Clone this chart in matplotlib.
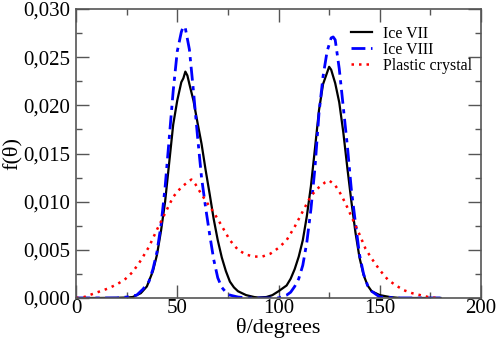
import matplotlib
matplotlib.use("Agg")
import matplotlib.pyplot as plt
from matplotlib.ticker import MultipleLocator, FuncFormatter

plt.rcParams['font.family'] = ['Liberation Serif', 'DejaVu Serif']

# Ice VII
x_vii = [0, 10, 20, 25, 28, 32, 35, 38, 40, 42, 44, 46, 48, 50, 52, 53, 54, 55, 56, 58, 60, 62, 64, 66, 68,
         70, 72, 74, 76, 78, 80, 84, 88, 90, 94, 97, 100, 104, 106, 108, 110, 112, 114, 116, 118, 120, 122,
         124, 125, 126, 128, 130, 132, 134, 136, 138, 140, 142, 144, 146, 150, 155, 160, 170, 180]
y_vii = [0, 0, 0.00002, 0.00005, 0.0001, 0.0005, 0.0012, 0.0028, 0.0045, 0.0070, 0.0100, 0.0140, 0.0180,
         0.0205, 0.0224, 0.0228, 0.0235, 0.0231, 0.0222, 0.0205, 0.0182, 0.0160, 0.0133, 0.0108, 0.0082,
         0.0060, 0.0042, 0.0028, 0.0017, 0.0011, 0.0007, 0.0003, 0.0001, 0.00005, 0.0001, 0.0003, 0.0007,
         0.0013, 0.0020, 0.0030, 0.0043, 0.0060, 0.0085, 0.0116, 0.0155, 0.0195, 0.0222, 0.0234, 0.0240,
         0.0237, 0.0223, 0.0203, 0.0172, 0.0135, 0.0100, 0.0068, 0.0042, 0.0024, 0.0013, 0.0007, 0.0003,
         0.0001, 0, 0, 0]

# Ice VIII
x_viii = [0, 20, 25, 30, 33, 36, 38, 40, 42, 44, 46, 48, 50, 52, 53, 54, 56, 58, 60, 62, 64, 66, 68, 70,
          72, 74, 76, 80, 85, 90, 95, 100, 104, 106, 108, 110, 112, 114, 116, 118, 120, 122, 124, 126, 127,
          128, 130, 132, 134, 136, 138, 140, 142, 144, 146, 150, 160, 180]
y_viii = [0, 0, 0.0001, 0.0003, 0.0009, 0.0017, 0.0030, 0.0048, 0.0076, 0.0115, 0.0165, 0.0215, 0.0256,
          0.0276, 0.0282, 0.0280, 0.0258, 0.0215, 0.0168, 0.0125, 0.0094, 0.0066, 0.0040, 0.0021, 0.0011,
          0.0006, 0.0003, 0.0001, 0, 0, 0, 0, 0.0003, 0.0006, 0.0012, 0.0020, 0.0034, 0.0058, 0.0092,
          0.0135, 0.0192, 0.0230, 0.0256, 0.0270, 0.0271, 0.0268, 0.0238, 0.0198, 0.0158, 0.0112, 0.0078,
          0.0045, 0.0025, 0.0013, 0.0007, 0.0001, 0, 0]

# Plastic crystal
x_pc = [0, 4, 8, 12, 16, 20, 24, 28, 32, 36, 40, 44, 48, 52, 55, 57, 59, 61, 64, 67, 70, 73, 76, 80, 84, 88,
        92, 96, 100, 104, 108, 112, 116, 120, 123, 125, 128, 131, 134, 137, 140, 143, 146, 150, 154, 158,
        162, 166, 170, 174, 178]
y_pc = [0, 0.0001, 0.0004, 0.0007, 0.0010, 0.0014, 0.0019, 0.0027, 0.0039, 0.0053, 0.0071, 0.0088, 0.0105,
        0.0115, 0.0120, 0.0123, 0.0118, 0.0111, 0.0101, 0.0092, 0.0082, 0.0071, 0.0060, 0.0050, 0.0045,
        0.0043, 0.0043, 0.0046, 0.0052, 0.0060, 0.0074, 0.0090, 0.0106, 0.0115, 0.0120, 0.0122, 0.0117,
        0.0107, 0.0094, 0.0080, 0.0066, 0.0051, 0.0041, 0.0029, 0.0019, 0.0013, 0.0008, 0.0005, 0.0003,
        0.0001, 0]

labels = ["Ice VII", "Ice VIII", "Plastic crystal"]

fig = plt.figure(figsize=(4.98, 3.39), dpi=100)
ax = fig.add_axes([76/498, 41/339, 405/498, 289/339])

ax.plot(x_vii, y_vii, color='black', lw=1.6, label=labels[0])
ax.plot(x_viii, y_viii, color='#0000ff', lw=2.0, dashes=(5, 2, 1.5, 2), label=labels[1])
ax.plot(x_pc, y_pc, color='#ff0000', lw=1.8, dashes=(1, 2), label=labels[2])

ax.set_xlim(0, 200)
ax.set_ylim(0, 0.030)
ax.xaxis.set_major_locator(MultipleLocator(50))
ax.xaxis.set_minor_locator(MultipleLocator(25))
ax.yaxis.set_major_locator(MultipleLocator(0.005))
ax.yaxis.set_minor_locator(MultipleLocator(0.0025))
ax.yaxis.set_major_formatter(FuncFormatter(lambda v, p: f"{v:.3f}".replace('.', ',')))
ax.xaxis.set_major_formatter(FuncFormatter(lambda v, p: f"{v:.0f}"))

spine_col = '#555555'
for s in ax.spines.values():
    s.set_color(spine_col)
    s.set_linewidth(1.2)
ax.tick_params(which='both', direction='in', top=True, right=True, color=spine_col, width=1.0,
               labelsize=15, labelcolor='black')
ax.tick_params(which='major', length=9.5)
ax.tick_params(which='minor', length=4.5)
ax.tick_params(axis='x', pad=1)
ax.tick_params(axis='y', pad=4)

ax.set_xlabel("θ/degrees", fontsize=16, labelpad=0)
ax.set_ylabel("f(θ)", fontsize=16, labelpad=1)

leg = ax.legend(loc='upper right', bbox_to_anchor=(1.005, 0.98), frameon=False, fontsize=11.5,
                handlelength=1.3, handletextpad=0.7, labelspacing=0.0, borderpad=0.2)

fig.savefig("out.png", dpi=100)
